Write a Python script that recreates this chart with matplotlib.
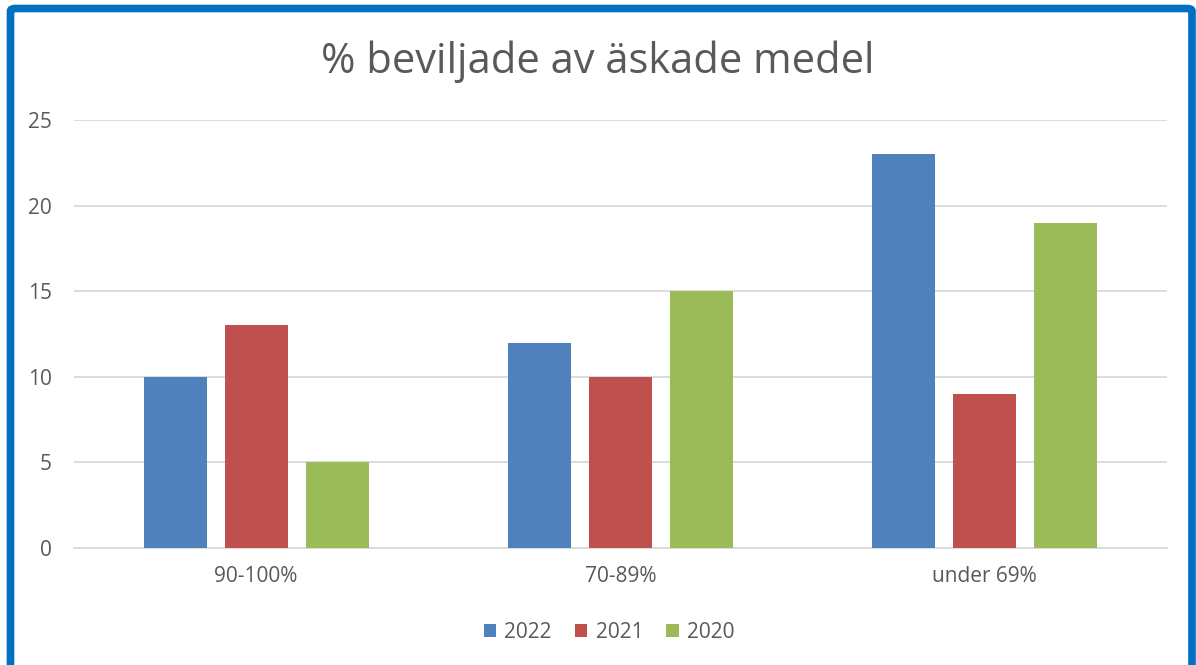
import matplotlib
matplotlib.use('Agg')
import matplotlib.pyplot as plt
from matplotlib.patches import FancyBboxPatch, Patch
import numpy as np

plt.rcParams['font.family'] = ['Open Sans', 'DejaVu Sans']

# data
categories = ['90-100%', '70-89%', 'under 69%']
years = ['2022', '2021', '2020']
values_2022 = [10, 12, 23]
values_2021 = [13, 10, 9]
values_2020 = [5, 15, 19]
colors = ['#4F81BD', '#C0504D', '#9BBB59']

text_color = '#595959'
grid_color = '#D9D9D9'

fig = plt.figure(figsize=(11.96, 6.65), dpi=100)
ax = fig.add_axes([74 / 1196, 1 - 548 / 665, (1167 - 74) / 1196, (548 - 120) / 665])

x = np.arange(len(categories))
width = 0.173
step = 0.222
series = [values_2022, values_2021, values_2020]
for i, (vals, col) in enumerate(zip(series, colors)):
    ax.bar(x + (i - 1) * step, vals, width, color=col, zorder=3)

ax.set_xlim(-0.5, 2.5)
ax.set_ylim(0, 25)
ax.set_yticks([0, 5, 10, 15, 20, 25])
ax.set_xticks(x)
ax.set_xticklabels(categories)
ax.yaxis.grid(True, color=grid_color, linewidth=1.3, zorder=0)
for s in ['top', 'right', 'left']:
    ax.spines[s].set_visible(False)
ax.spines['bottom'].set_color(grid_color)
ax.spines['bottom'].set_linewidth(1.3)
ax.tick_params(axis='both', length=0, labelsize=15, labelcolor=text_color)
ax.tick_params(axis='y', pad=16)
ax.tick_params(axis='x', pad=13)

fig.text(0.5, 1 - 62 / 665, '% beviljade av äskade medel', ha='center', va='center',
         fontsize=30, color=text_color)

handles = [Patch(facecolor=c, label=y) for c, y in zip(colors, years)]
fig.legend(handles=handles, loc='center', bbox_to_anchor=(609 / 1196, 1 - 632 / 665),
           ncol=3, frameon=False, fontsize=15, labelcolor=text_color,
           handlelength=0.6, handleheight=0.6, handletextpad=0.4, columnspacing=1.1)

# blue frame round the chart
border = FancyBboxPatch((10.5 / 1196, -0.1), (1192 - 10.5) / 1196, 1.1 - 8.5 / 665,
                        boxstyle='round,pad=0,rounding_size=0.004',
                        transform=fig.transFigure, fill=False,
                        edgecolor='#0070C0', linewidth=5.5, zorder=10)
fig.patches.append(border)

fig.savefig('out.png', dpi=100)
